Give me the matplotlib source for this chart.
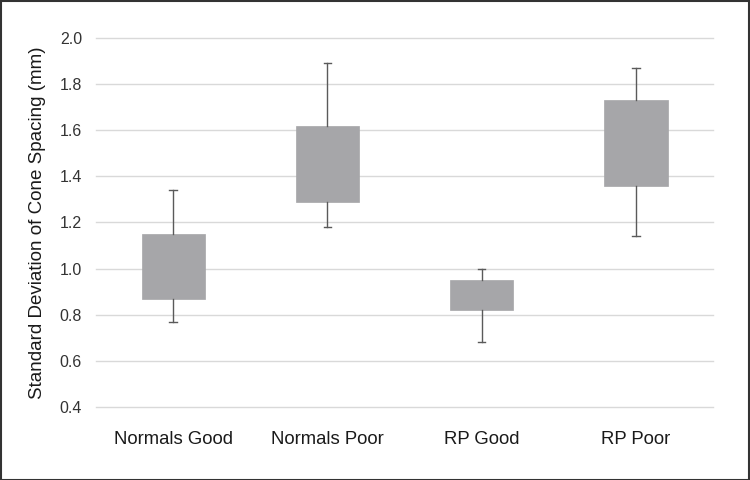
import matplotlib.pyplot as plt
from matplotlib.patches import Rectangle

plt.rcParams['font.family'] = ['Liberation Sans', 'DejaVu Sans']

## ================= DATOS =================
groups = ["Normals Good", "Normals Poor", "RP Good", "RP Poor"]
whisker_low = [0.77, 1.18, 0.68, 1.14]
q1 = [0.87, 1.29, 0.82, 1.36]
q3 = [1.15, 1.62, 0.95, 1.73]
whisker_high = [1.34, 1.89, 1.00, 1.87]
y_ticks = [0.4, 0.6, 0.8, 1.0, 1.2, 1.4, 1.6, 1.8, 2.0]

box_color = "#a6a6a9"
line_color = "#5a5a5a"

stats = []
for i, name in enumerate(groups):
    stats.append(dict(label=name, whislo=whisker_low[i], q1=q1[i], med=q1[i],
                      q3=q3[i], whishi=whisker_high[i], fliers=[]))

## ================= FIGURA =================
fig = plt.figure(figsize=(7.5, 4.8), dpi=100)
ax = fig.add_axes([0.128, 0.152, 0.8227, 0.769])

ax.grid(axis='y', color='#d9d9d9', lw=1)
ax.set_axisbelow(True)

ax.bxp(stats, positions=range(len(groups)), widths=0.41, patch_artist=True,
       showfliers=False,
       boxprops=dict(facecolor=box_color, edgecolor=box_color, lw=0.5),
       whiskerprops=dict(color=line_color, lw=1),
       capprops=dict(color=line_color, lw=1),
       medianprops=dict(lw=0),
       capwidths=0.05)

ax.set_xlim(-0.5, len(groups) - 0.5)
ax.set_ylim(0.4, 2.0)
ax.set_yticks(y_ticks)
ax.set_yticklabels([f"{v:.1f}" for v in y_ticks])
ax.tick_params(axis='y', length=0, pad=10, labelsize=11.5, labelcolor='#333333')
ax.tick_params(axis='x', length=0, pad=17, labelsize=13.3, labelcolor='#1a1a1a')
for g in ax.get_ygridlines():
    g.set_clip_on(False)
for s in ax.spines.values():
    s.set_visible(False)

ax.set_ylabel("Standard Deviation of Cone Spacing (mm)", fontsize=13.5,
              color='#1a1a1a', labelpad=10)

# marco exterior
fig.patches.append(Rectangle((0.001, 0.001), 0.998, 0.997, transform=fig.transFigure,
                             fill=False, edgecolor='#333333', lw=1.5))

fig.savefig("out.png", dpi=100)
